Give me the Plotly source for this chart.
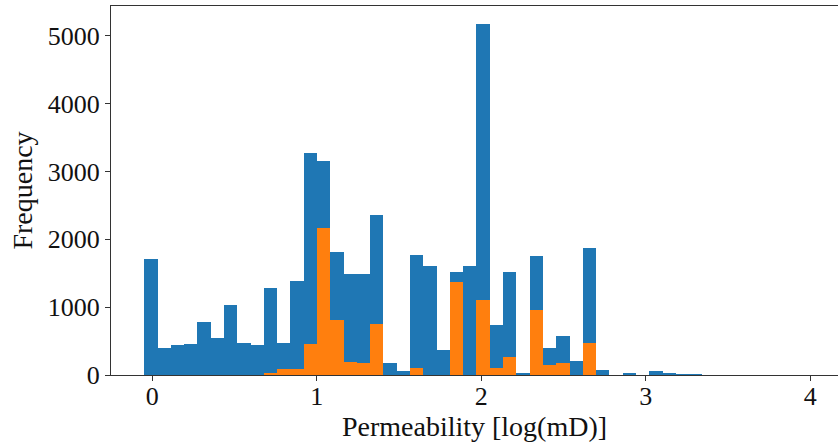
import numpy as np
import plotly.graph_objects as go

# Histogram bins (log10 permeability, mD)
bin_start = -0.049
bin_width = 0.0808
n_bins = 50

# Counts per bin: all samples (blue) and subset (orange)
counts_all = [
    1710, 400, 445, 460, 775, 548, 1030, 465, 445, 1277,
    478, 1381, 3279, 3161, 1809, 1489, 1484, 2352, 182, 59,
    1770, 1612, 365, 1513, 1602, 5173, 740, 1513, 20, 1760,
    395, 577, 203, 1869, 74, 0, 15, 0, 59, 34,
    5, 10, 0, 0, 0, 0, 0, 0, 0, 0,
]
counts_subset = [
    0, 0, 0, 0, 0, 0, 0, 0, 0, 20,
    84, 84, 459, 2170, 814, 197, 183, 750, 0, 0,
    108, 0, 0, 1376, 0, 1109, 108, 271, 0, 957,
    148, 182, 0, 478, 0, 0, 0, 0, 0, 0,
    0, 0, 0, 0, 0, 0, 0, 0, 0, 0,
]

x_ticks = [0, 1, 2, 3, 4]
y_ticks = [0, 1000, 2000, 3000, 4000, 5000]

edges = bin_start + bin_width * np.arange(n_bins + 1)
centers = (edges[:-1] + edges[1:]) / 2

fig = go.Figure()
fig.add_trace(go.Bar(x=centers, y=counts_all, width=bin_width,
                     marker=dict(color="#1f77b4", line=dict(width=0))))
fig.add_trace(go.Bar(x=centers, y=counts_subset, width=bin_width,
                     marker=dict(color="#ff7f0e", line=dict(width=0))))

family = "Liberation Serif, Times New Roman, serif"
tick_font = dict(family=family, size=26, color="#111")
title_font = dict(family=family, size=28, color="#111")

fig.update_layout(
    width=838, height=446,
    margin=dict(l=111, r=0, t=6, b=71),
    barmode="overlay", bargap=0,
    showlegend=False,
    plot_bgcolor="white", paper_bgcolor="white",
    font=tick_font,
)
fig.update_xaxes(
    range=[-0.251, 4.169],
    tickvals=x_ticks, ticktext=[str(v) for v in x_ticks],
    ticks="outside", ticklen=5, tickcolor="#333",
    ticklabelstandoff=-7, tickfont=tick_font,
    showline=True, linecolor="#333", linewidth=1, mirror=True,
    showgrid=False, zeroline=False,
    title=dict(text="Permeability [log(mD)]", standoff=2, font=title_font),
)
fig.update_yaxes(
    range=[0, 5440],
    tickvals=y_ticks, ticktext=[str(v) for v in y_ticks],
    ticks="outside", ticklen=5, tickcolor="#333",
    tickfont=tick_font,
    showline=True, linecolor="#333", linewidth=1, mirror=False,
    showgrid=False, zeroline=False,
    title=dict(text="Frequency", standoff=6, font=title_font),
)

fig.write_html("out.html")
